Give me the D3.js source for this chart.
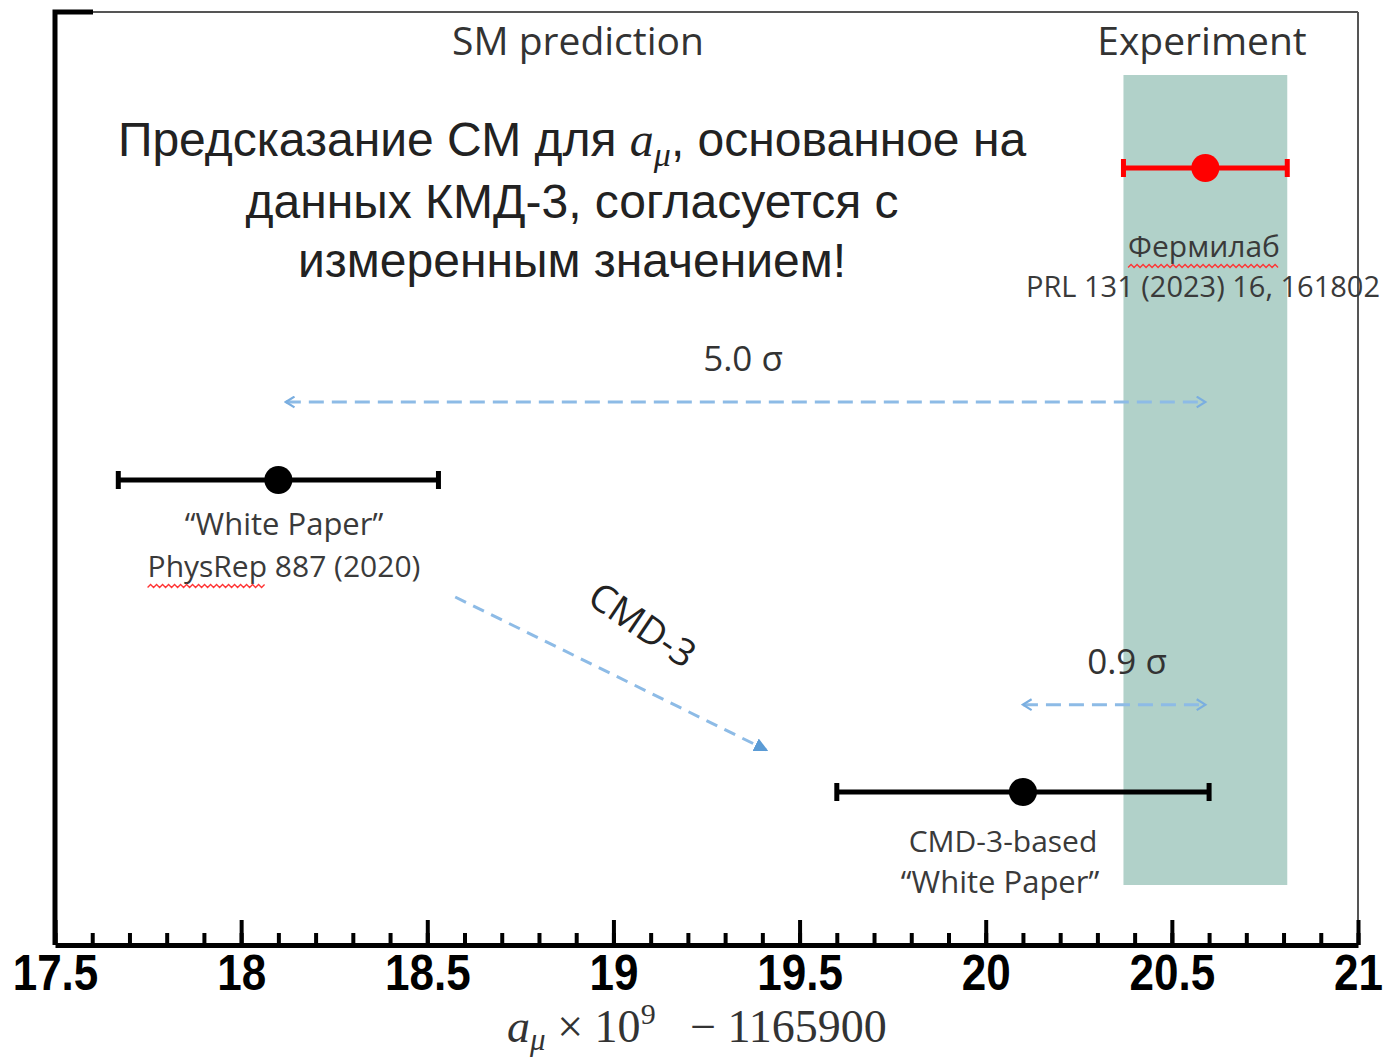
<!DOCTYPE html>
<html>
<head>
<meta charset="utf-8">
<script src="https://cdn.jsdelivr.net/npm/d3@7"></script>
<style>
  html, body { margin: 0; padding: 0; background: #fff; }
  svg { display: block; }
</style>
</head>
<body>
<svg id="chart" width="1387" height="1060"></svg>
<script>
'use strict';

// measurements (a_mu x 1e9 - 1165900)
var categories = ['Fermilab', 'White Paper', 'CMD-3-based White Paper'];
var centers = [20.59, 18.10, 20.10];
var errors = [0.22, 0.43, 0.50];
var pointColors = ['#ff0000', '#000000', '#000000'];

var majorTicks = [17.5, 18, 18.5, 19, 19.5, 20, 20.5, 21];
var tickLabels = ['17.5', '18', '18.5', '19', '19.5', '20', '20.5', '21'];

// tension arrows: from / to (x value), row position
var sigmaFrom = [18.12, 20.10];
var sigmaTo = [20.59, 20.59];
var sigmaRow = [0.75, 1.72];
var sigmaText = ['5.0 σ', '0.9 σ'];

var svg = d3.select('#chart');

var x = d3.scaleLinear().domain([17.5, 21]).range([55, 1358]);
var y = d3.scaleLinear().domain([0, 2]).range([168, 792]);
var axisY = 945, topY = 12;

var defs = svg.append('defs');
defs.append('marker')
    .attr('id', 'chev')
    .attr('viewBox', '0 0 12 12')
    .attr('refX', 10).attr('refY', 6)
    .attr('markerWidth', 13).attr('markerHeight', 13)
    .attr('markerUnits', 'userSpaceOnUse')
    .attr('orient', 'auto-start-reverse')
    .append('path')
    .attr('d', 'M2,1 L10,6 L2,11')
    .attr('fill', 'none')
    .attr('stroke', '#7aaee0')
    .attr('stroke-width', 2);
defs.append('marker')
    .attr('id', 'tri')
    .attr('viewBox', '0 0 12 12')
    .attr('refX', 10).attr('refY', 6)
    .attr('markerWidth', 14).attr('markerHeight', 14)
    .attr('markerUnits', 'userSpaceOnUse')
    .attr('orient', 'auto')
    .append('path')
    .attr('d', 'M0,0 L12,6 L0,12 Z')
    .attr('fill', '#5b9bd5');

// experiment band
svg.append('rect')
    .attr('x', x(centers[0] - errors[0]))
    .attr('y', 75)
    .attr('width', x(centers[0] + errors[0]) - x(centers[0] - errors[0]))
    .attr('height', 885 - 75)
    .attr('fill', '#b1d1c9');

// frame
svg.append('line').attr('x1', x(17.5)).attr('x2', x(21)).attr('y1', topY).attr('y2', topY)
    .attr('stroke', '#555').attr('stroke-width', 2);
svg.append('line').attr('x1', x(21)).attr('x2', x(21)).attr('y1', topY).attr('y2', axisY)
    .attr('stroke', '#555').attr('stroke-width', 2);
svg.append('path')
    .attr('d', 'M' + (x(17.5) + 38) + ',' + topY + ' H' + x(17.5) + ' V' + axisY)
    .attr('fill', 'none').attr('stroke', '#000').attr('stroke-width', 5);

// x axis
var minorAxis = d3.axisBottom(x).ticks(35).tickSize(-12).tickSizeOuter(0).tickFormat('');
var majorAxis = d3.axisBottom(x).tickValues(majorTicks).tickSize(-25).tickSizeOuter(0)
    .tickFormat(function (d, i) { return tickLabels[i]; });

var gMinor = svg.append('g').attr('transform', 'translate(0,' + axisY + ')').call(minorAxis);
gMinor.select('.domain').remove();
gMinor.selectAll('line').attr('stroke', '#000').attr('stroke-width', 4);

var gMajor = svg.append('g').attr('transform', 'translate(0,' + axisY + ')').call(majorAxis);
gMajor.select('.domain').attr('stroke', '#000').attr('stroke-width', 5);
gMajor.selectAll('line').attr('stroke', '#000').attr('stroke-width', 4);
gMajor.selectAll('text')
    .attr('y', 45).attr('dy', 0)
    .attr('transform', 'scale(0.88,1)')
    .attr('fill', '#000')
    .style('font-family', '"Liberation Sans", Arial, sans-serif')
    .style('font-weight', 'bold')
    .style('font-size', '50px');

// axis title
var xt = svg.append('text')
    .attr('x', 697).attr('y', 1042)
    .attr('text-anchor', 'middle')
    .attr('fill', '#333')
    .style('font-family', '"Liberation Serif", "DejaVu Serif", serif')
    .style('font-size', '46px');
xt.append('tspan').style('font-style', 'italic').text('a');
xt.append('tspan').attr('dy', 8).style('font-style', 'italic').style('font-size', '31px').text('μ');
xt.append('tspan').attr('dy', -8).text(' × 10');
xt.append('tspan').attr('dy', -18).style('font-size', '30px').text('9');
xt.append('tspan').attr('dy', 18).style('white-space', 'pre').text('   − 1165900');

// headers
var labelFont = '"Open Sans", Lato, sans-serif';
svg.append('text').attr('x', 578).attr('y', 55).attr('text-anchor', 'middle')
    .attr('fill', '#333').style('font-family', labelFont).style('font-size', '39px')
    .text('SM prediction');
svg.append('text').attr('x', 1202).attr('y', 55).attr('text-anchor', 'middle')
    .attr('fill', '#333').style('font-family', labelFont).style('font-size', '39px')
    .text('Experiment');

// russian statement
var ru = svg.append('text')
    .attr('text-anchor', 'middle')
    .attr('fill', '#222')
    .style('font-family', '"Liberation Sans", Arial, sans-serif')
    .style('font-size', '48px');
var l1 = ru.append('tspan').attr('x', 572).attr('y', 156);
l1.append('tspan').text('Предсказание СМ для ');
l1.append('tspan').style('font-family', '"Liberation Serif", serif').style('font-style', 'italic').text('a');
l1.append('tspan').attr('dy', 10).style('font-family', '"Liberation Serif", serif').style('font-style', 'italic').style('font-size', '34px').text('μ');
l1.append('tspan').attr('dy', -10).text(', основанное на');
ru.append('tspan').attr('x', 572).attr('y', 218).text('данных КМД-3, согласуется с');
ru.append('tspan').attr('x', 572).attr('y', 277).text('измеренным значением!');

// sigma arrows
svg.selectAll('line.sigma')
    .data(sigmaRow)
    .enter()
    .append('line')
    .attr('class', 'sigma')
    .attr('x1', function (d, i) { return x(sigmaFrom[i]); })
    .attr('x2', function (d, i) { return x(sigmaTo[i]); })
    .attr('y1', function (d) { return y(d); })
    .attr('y2', function (d) { return y(d); })
    .attr('stroke', '#8dbbe6')
    .attr('stroke-width', 3)
    .attr('stroke-dasharray', '15,8')
    .attr('marker-start', 'url(#chev)')
    .attr('marker-end', 'url(#chev)');

svg.selectAll('text.sigma')
    .data(sigmaText)
    .enter()
    .append('text')
    .attr('class', 'sigma')
    .attr('x', function (d, i) { return i === 0 ? 743 : 1127; })
    .attr('y', function (d, i) { return y(sigmaRow[i]) - 31; })
    .attr('text-anchor', 'middle')
    .attr('fill', '#333')
    .style('font-family', labelFont)
    .style('font-size', '35px')
    .text(function (d) { return d; });

// CMD-3 shift arrow
svg.append('line')
    .attr('x1', x(18.575)).attr('y1', y(1.375))
    .attr('x2', x(19.41)).attr('y2', y(1.865))
    .attr('stroke', '#8dbbe6')
    .attr('stroke-width', 3)
    .attr('stroke-dasharray', '12,8')
    .attr('marker-end', 'url(#tri)');
svg.append('text')
    .attr('transform', 'translate(635,636) rotate(34)')
    .attr('text-anchor', 'middle')
    .attr('fill', '#222')
    .style('font-family', labelFont)
    .style('font-size', '38px')
    .text('CMD-3');

// error bars
var bars = svg.selectAll('g.meas')
    .data(categories)
    .enter()
    .append('g')
    .attr('class', 'meas');

bars.append('line')
    .attr('x1', function (d, i) { return x(centers[i] - errors[i]); })
    .attr('x2', function (d, i) { return x(centers[i] + errors[i]); })
    .attr('y1', function (d, i) { return y(i); })
    .attr('y2', function (d, i) { return y(i); })
    .attr('stroke', function (d, i) { return pointColors[i]; })
    .attr('stroke-width', 5);

[-1, 1].forEach(function (s) {
    bars.append('line')
        .attr('x1', function (d, i) { return x(centers[i] + s * errors[i]); })
        .attr('x2', function (d, i) { return x(centers[i] + s * errors[i]); })
        .attr('y1', function (d, i) { return y(i) - 9; })
        .attr('y2', function (d, i) { return y(i) + 9; })
        .attr('stroke', function (d, i) { return pointColors[i]; })
        .attr('stroke-width', 5);
});

bars.append('circle')
    .attr('cx', function (d, i) { return x(centers[i]); })
    .attr('cy', function (d, i) { return y(i); })
    .attr('r', 14)
    .attr('fill', function (d, i) { return pointColors[i]; });

// point labels
function squiggle(textSel, nChars) {
    var node = textSel.node();
    var total = node.getComputedTextLength();
    var sub = node.getSubStringLength(0, nChars);
    var x0 = +textSel.attr('x') - total / 2;
    var yy = +textSel.attr('y') + 9;
    var pts = d3.range(0, Math.floor(sub / 3) + 1).map(function (k) {
        return [x0 + k * 3, yy + (k % 2 ? -1.5 : 1.5)];
    });
    svg.append('path')
        .attr('d', d3.line()(pts))
        .attr('fill', 'none')
        .attr('stroke', '#ff3333')
        .attr('stroke-width', 1.3);
}

function label(cx, cy, txt, size) {
    return svg.append('text')
        .attr('x', cx).attr('y', cy)
        .attr('text-anchor', 'middle')
        .attr('fill', '#3a3a3a')
        .style('font-family', labelFont)
        .style('font-size', size + 'px')
        .text(txt);
}

var fl = label(1204, 257, 'Фермилаб', 30);
squiggle(fl, 8);
label(1203, 297, 'PRL 131 (2023) 16, 161802', 29);

label(284, 535, '“White Paper”', 31);
var pr = label(284, 577, 'PhysRep 887 (2020)', 30);
squiggle(pr, 7);

label(1003, 852, 'CMD-3-based', 30);
label(1000, 893, '“White Paper”', 31);
</script>
</body>
</html>
